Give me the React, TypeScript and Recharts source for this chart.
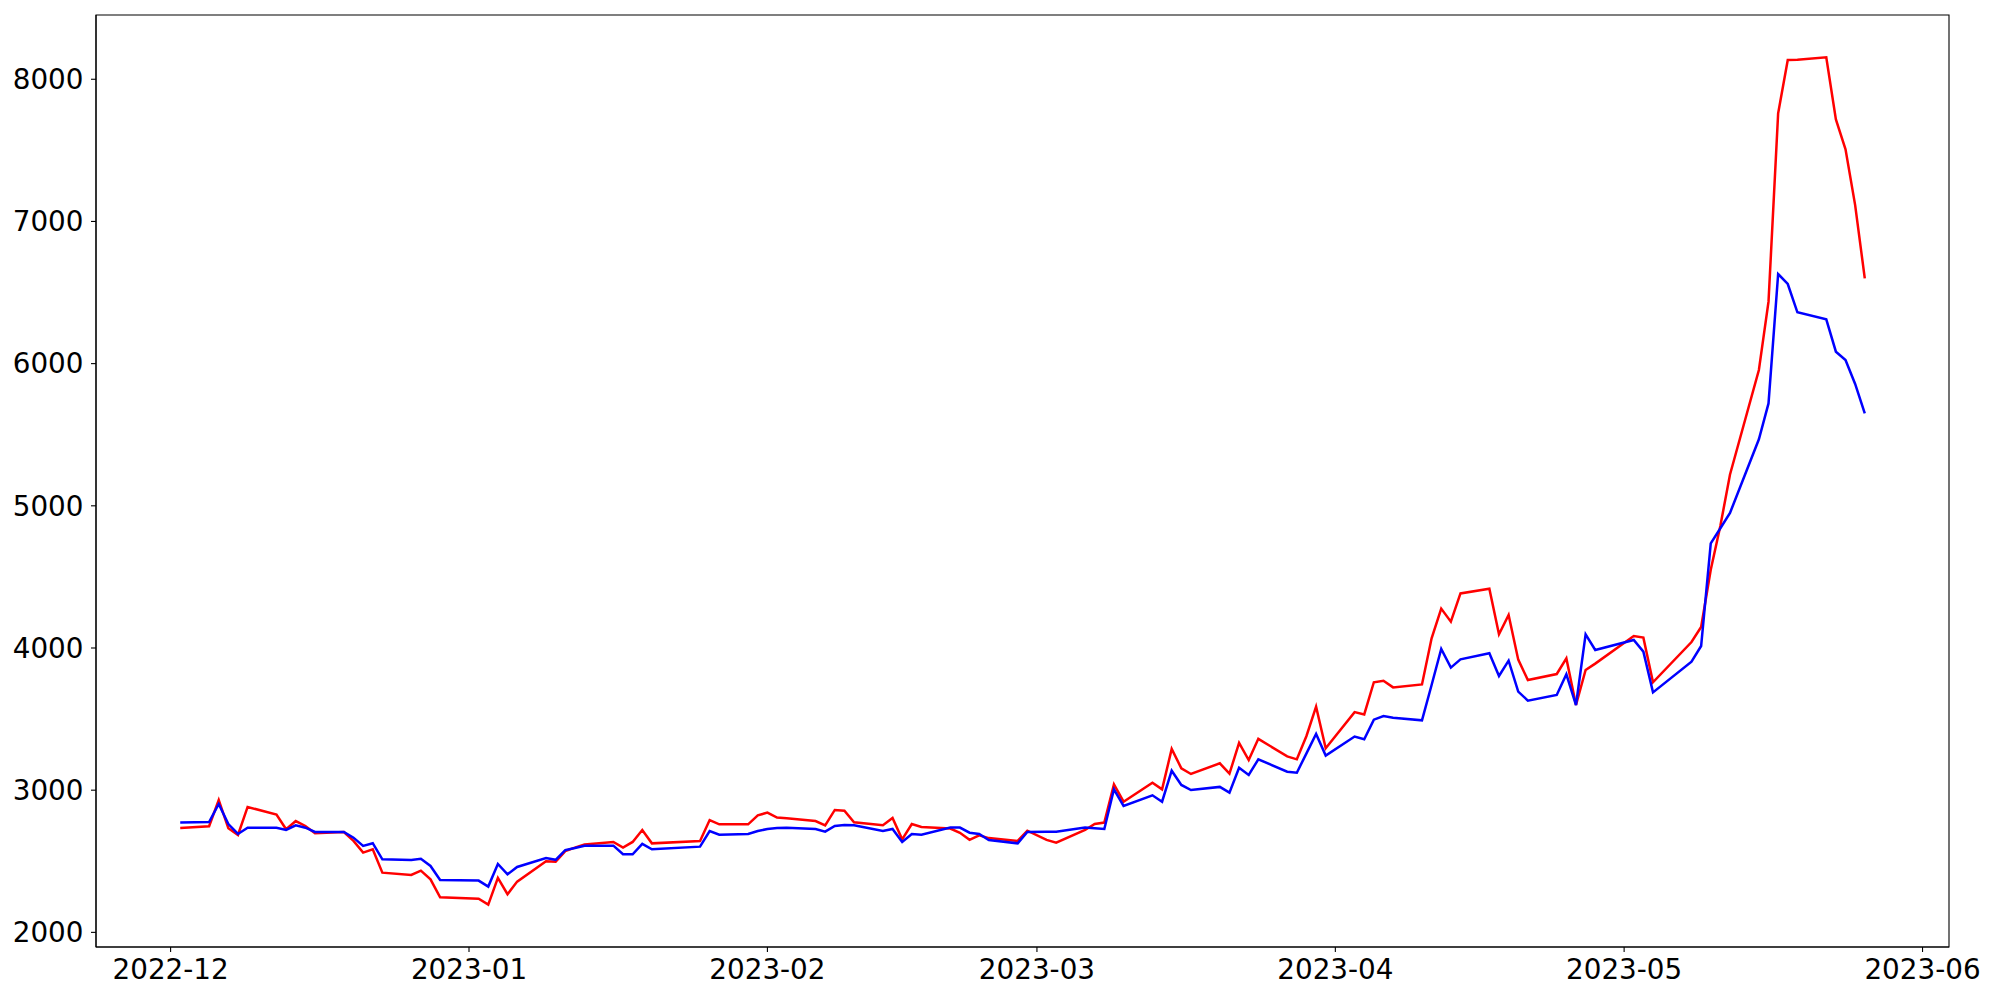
import { Line, LineChart, ReferenceArea, XAxis, YAxis } from "recharts";

const dates = [
  "2022-12-02", "2022-12-05", "2022-12-06", "2022-12-07", "2022-12-08", "2022-12-09",
  "2022-12-12", "2022-12-13", "2022-12-14", "2022-12-15", "2022-12-16",
  "2022-12-19", "2022-12-20", "2022-12-21", "2022-12-22", "2022-12-23",
  "2022-12-26", "2022-12-27", "2022-12-28", "2022-12-29",
  "2023-01-02", "2023-01-03", "2023-01-04", "2023-01-05", "2023-01-06",
  "2023-01-09", "2023-01-10", "2023-01-11", "2023-01-12", "2023-01-13",
  "2023-01-16", "2023-01-17", "2023-01-18", "2023-01-19", "2023-01-20",
  "2023-01-25", "2023-01-26", "2023-01-27", "2023-01-30", "2023-01-31",
  "2023-02-01", "2023-02-02", "2023-02-03",
  "2023-02-06", "2023-02-07", "2023-02-08", "2023-02-09", "2023-02-10",
  "2023-02-13", "2023-02-14", "2023-02-15", "2023-02-16", "2023-02-17",
  "2023-02-20", "2023-02-21", "2023-02-22", "2023-02-23", "2023-02-24",
  "2023-02-27", "2023-02-28",
  "2023-03-02", "2023-03-03",
  "2023-03-06", "2023-03-07", "2023-03-08", "2023-03-09", "2023-03-10",
  "2023-03-13", "2023-03-14", "2023-03-15", "2023-03-16", "2023-03-17",
  "2023-03-20", "2023-03-21", "2023-03-22", "2023-03-23", "2023-03-24",
  "2023-03-27", "2023-03-28", "2023-03-29", "2023-03-30", "2023-03-31",
  "2023-04-03", "2023-04-04", "2023-04-05", "2023-04-06", "2023-04-07",
  "2023-04-10", "2023-04-11", "2023-04-12", "2023-04-13", "2023-04-14",
  "2023-04-17", "2023-04-18", "2023-04-19", "2023-04-20", "2023-04-21",
  "2023-04-24", "2023-04-25", "2023-04-26", "2023-04-27", "2023-04-28",
  "2023-05-02", "2023-05-03", "2023-05-04",
  "2023-05-08", "2023-05-09", "2023-05-10", "2023-05-11", "2023-05-12",
  "2023-05-15", "2023-05-16", "2023-05-17", "2023-05-18", "2023-05-19",
  "2023-05-22", "2023-05-23", "2023-05-24", "2023-05-25", "2023-05-26",
];

const redValues = [
  2734, 2746, 2931, 2732, 2685, 2882,
  2828, 2725, 2783, 2748, 2697,
  2706, 2643, 2561, 2584, 2420,
  2404, 2434, 2373, 2247,
  2237, 2195, 2383, 2268, 2357,
  2500, 2496, 2571, 2596, 2618,
  2636, 2596, 2636, 2720, 2626,
  2643, 2790, 2760, 2760, 2823,
  2842, 2807, 2802,
  2783, 2753, 2861, 2856, 2774,
  2753, 2804, 2654, 2762, 2741,
  2730, 2700, 2651, 2683, 2663,
  2643, 2715,
  2650, 2631,
  2720, 2762, 2772, 3041, 2919,
  3053, 3006, 3290, 3154, 3114,
  3189, 3116, 3332, 3212, 3361,
  3238, 3217, 3381, 3587, 3295,
  3549, 3533, 3759, 3770, 3723,
  3744, 4068, 4277, 4185, 4384,
  4417, 4096, 4232, 3918, 3775,
  3817, 3927, 3599, 3845, 3890,
  4084, 4073, 3759,
  4042, 4148, 4550, 4860, 5220,
  5955, 6436, 7760, 8135, 8138,
  8154, 7718, 7507, 7115, 6600,
];

const blueValues = [
  2772, 2776, 2903, 2762, 2692, 2736,
  2736, 2720, 2753, 2736, 2706,
  2706, 2666, 2608, 2627, 2514,
  2509, 2518, 2467, 2368,
  2364, 2322, 2481, 2408, 2460,
  2523, 2510, 2579, 2593, 2609,
  2610, 2549, 2549, 2622, 2584,
  2603, 2713, 2687, 2692, 2713,
  2727, 2734, 2736,
  2727, 2708, 2748, 2755, 2753,
  2713, 2727, 2636, 2692, 2687,
  2737, 2737, 2701, 2692, 2650,
  2626, 2706,
  2708, 2708,
  2737, 2732, 2727, 3006, 2889,
  2964, 2919, 3137, 3037, 3001,
  3023, 2983, 3158, 3107, 3217,
  3130, 3123, 3259, 3395, 3243,
  3377, 3358, 3496, 3522, 3510,
  3491, 3740, 3993, 3862, 3920,
  3963, 3803, 3911, 3693, 3630,
  3670, 3815, 3599, 4096, 3986,
  4056, 3974, 3688,
  3904, 4014, 4736, 4842, 4950,
  5468, 5720, 6630, 6560, 6361,
  6311, 6084, 6025, 5857, 5650,
];

const monthTicks = [
  "2022-12-01", "2023-01-01", "2023-02-01", "2023-03-01",
  "2023-04-01", "2023-05-01", "2023-06-01",
];

const yTicks = [2000, 3000, 4000, 5000, 6000, 7000, 8000];

const rows = dates.map((d, i) => ({ t: Date.parse(d), red: redValues[i], blue: blueValues[i] }));

// matplotlib-style 5% margins around the data
function padded(values: number[]): [number, number] {
  const lo = Math.min(...values);
  const hi = Math.max(...values);
  const pad = (hi - lo) * 0.05;
  return [lo - pad, hi + pad];
}

const xDomain = padded(rows.map((r) => r.t));
const yDomain = padded([...redValues, ...blueValues]);

const tickFont = { fill: "#000", fontSize: 27.8, fontFamily: "DejaVu Sans" };
const blackLine = { stroke: "#000", strokeWidth: 1.1 };

function monthLabel(value: number) {
  const d = new Date(value);
  return `${d.getUTCFullYear()}-${String(d.getUTCMonth() + 1).padStart(2, "0")}`;
}

export default function App() {
  return (
    <div style={{ position: "absolute", left: 0, top: 0, width: 2000, height: 1000, background: "#fff" }}>
      <LineChart width={2000} height={1000} data={rows} margin={{ top: 15, right: 51, bottom: 0, left: 0 }}>
        <ReferenceArea
          x1={xDomain[0]}
          x2={xDomain[1]}
          y1={yDomain[0]}
          y2={yDomain[1]}
          fill="none"
          stroke="#000"
          strokeWidth={1.1}
          ifOverflow="visible"
        />
        <XAxis
          dataKey="t"
          type="number"
          domain={xDomain}
          allowDataOverflow
          ticks={monthTicks.map((m) => Date.parse(m))}
          tickFormatter={monthLabel}
          interval={0}
          height={53}
          tickSize={5}
          tickMargin={7.5}
          tick={tickFont}
          tickLine={blackLine}
          axisLine={blackLine}
        />
        <YAxis
          type="number"
          domain={yDomain}
          allowDataOverflow
          ticks={yTicks}
          interval={0}
          width={96}
          tickSize={5}
          tickMargin={7.5}
          tick={tickFont}
          tickLine={blackLine}
          axisLine={blackLine}
        />
        <Line type="linear" dataKey="red" stroke="#ff0000" strokeWidth={2.5} dot={false} isAnimationActive={false} />
        <Line type="linear" dataKey="blue" stroke="#0000ff" strokeWidth={2.5} dot={false} isAnimationActive={false} />
      </LineChart>
    </div>
  );
}
